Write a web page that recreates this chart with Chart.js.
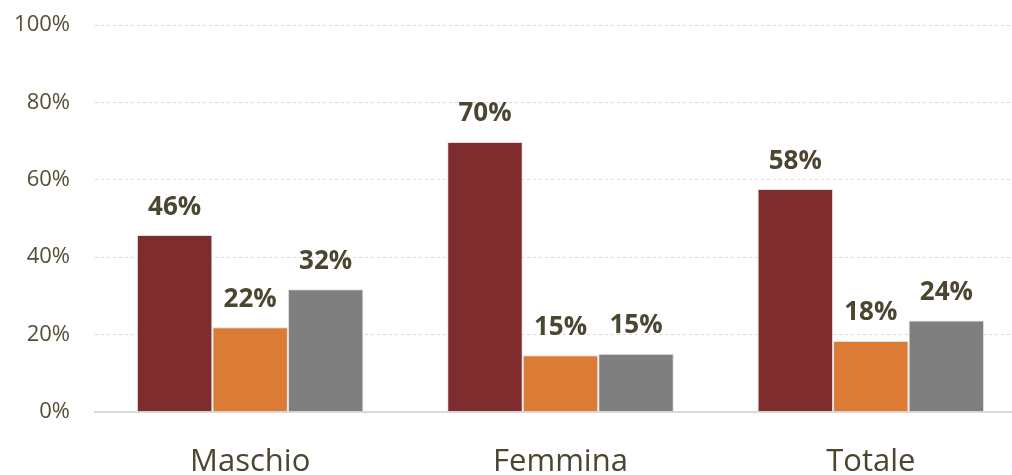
<!DOCTYPE html>
<html>
<head>
<meta charset="utf-8">
<script src="https://cdn.jsdelivr.net/npm/chart.js@4/dist/chart.umd.min.js"></script>
<style>
  html, body { margin: 0; padding: 0; background: #fff; overflow: hidden; }
  #wrap { position: relative; top: -13px; width: 1026px; height: 518px; }
</style>
</head>
<body>
<div id="wrap"><canvas id="chart"></canvas></div>
<script>
// --- DATA ---
const categories = ['Maschio', 'Femmina', 'Totale'];
const seriesA = [45.7, 69.8, 57.6];   // dark red
const seriesB = [21.9, 14.6, 18.3];   // orange
const seriesC = [31.7, 15.0, 23.6];   // gray
const yTicks = [0, 20, 40, 60, 80, 100];

const colors = ['#7F2C2F', '#DC7B36', '#7F7F7F'];
const textColor = '#4B4630';

// simple value labels above the bars
const barLabels = {
  id: 'barLabels',
  afterDatasetsDraw(chart) {
    const ctx = chart.ctx;
    ctx.save();
    ctx.font = 'bold 26px "Open Sans", sans-serif';
    ctx.fillStyle = textColor;
    ctx.textAlign = 'center';
    ctx.textBaseline = 'bottom';
    chart.data.datasets.forEach((ds, i) => {
      chart.getDatasetMeta(i).data.forEach((bar, j) => {
        ctx.fillText(Math.round(ds.data[j]) + '%', bar.x, bar.y - 15);
      });
    });
    ctx.restore();
  }
};

new Chart(document.getElementById('chart'), {
  type: 'bar',
  data: {
    labels: categories,
    datasets: [
      { data: seriesA, backgroundColor: colors[0] },
      { data: seriesB, backgroundColor: colors[1] },
      { data: seriesC, backgroundColor: colors[2] }
    ].map(d => Object.assign(d, {
      borderColor: '#E6E0E0',
      borderWidth: 1,
      categoryPercentage: 0.73,
      barPercentage: 1
    }))
  },
  options: {
    responsive: true,
    maintainAspectRatio: false,
    animation: false,
    layout: { padding: { top: 0, left: 0, right: 0, bottom: 0 } },
    plugins: { legend: { display: false }, tooltip: { enabled: false } },
    scales: {
      x: {
        grid: { display: false },
        border: { color: '#D9D9D9', width: 2 },
        ticks: {
          color: textColor,
          font: { family: '"Open Sans", sans-serif', size: 31 },
          padding: 24
        }
      },
      y: {
        min: 0,
        max: 100,
        afterBuildTicks(scale) { scale.ticks = yTicks.map(v => ({ value: v })); },
        afterFit(scale) { scale.width = 95; },
        grid: { color: '#D9D9D9', drawTicks: false },
        border: { display: false, dash: [3, 3] },
        ticks: {
          color: '#544F35',
          font: { family: '"Open Sans", sans-serif', size: 22 },
          padding: 25,
          callback: v => v + '%'
        }
      }
    }
  },
  plugins: [barLabels]
});
</script>
</body>
</html>
